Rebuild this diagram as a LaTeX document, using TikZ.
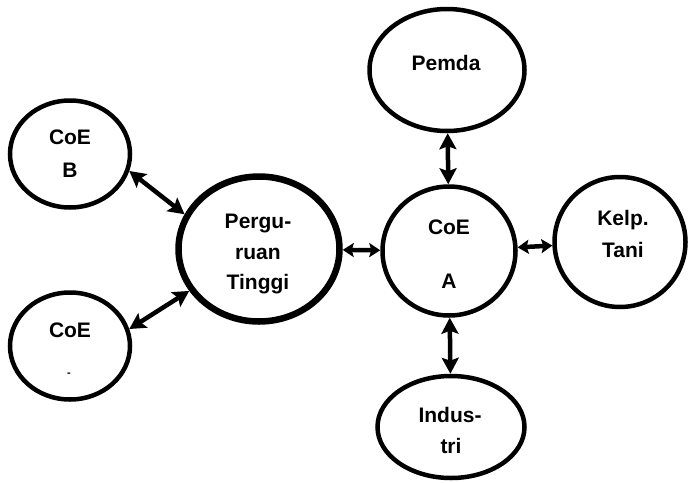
\documentclass[tikz,border=0pt]{standalone}
\usepackage{fontspec}
\setmainfont{Liberation Sans}
\usetikzlibrary{shapes.geometric,arrows.meta}
\newcommand{\lbfont}{\fontsize{21}{25}\selectfont\bfseries}
\tikzset{
  bub/.style={draw, line width=4.5pt, ellipse, inner sep=0pt},
  lbl/.style={font=\lbfont, anchor=base, inner sep=0pt},
  link/.style={line width=4.5pt, {Stealth[length=16pt,width=17pt,inset=3pt]}-{Stealth[length=16pt,width=17pt,inset=3pt]}},
  shortlink/.style={line width=4.5pt, {Stealth[length=11pt,width=14pt,inset=2pt]}-{Stealth[length=11pt,width=14pt,inset=2pt]}}
}
\begin{document}
\begin{tikzpicture}[x=1pt,y=-1pt]
\useasboundingbox[fill=white] (0,0) rectangle (688,482);
% bubbles
\node[bub, minimum width=120pt, minimum height=107pt] (cb) at (70,154) {};
\node[bub, minimum width=120pt, minimum height=107pt] (cl) at (70,346) {};
\node[bub, line width=6.5pt, minimum width=161pt, minimum height=145pt] (pt) at (259,249) {};
\node[bub, minimum width=133pt, minimum height=129pt] (ca) at (449,251) {};
\node[bub, minimum width=155pt, minimum height=122pt] (pem) at (447,70) {};
\node[bub, minimum width=131pt, minimum height=130pt] (kt) at (620,242) {};
\node[bub, minimum width=147pt, minimum height=102pt] (ind) at (451,427) {};
% labels
\node[lbl] (cb1) at (70,144) {CoE};
\node[lbl] (cb2) at (70,177) {B};
\node[lbl] (cl1) at (70,337) {CoE};
\node[lbl, font=\fontsize{11}{13}\selectfont\bfseries] (cl2) at (69,376) {-};
\node[lbl] (pt1) at (258,228) {Pergu-};
\node[lbl] (pt2) at (258,259) {ruan};
\node[lbl] (pt3) at (258,289) {Tinggi};
\node[lbl] (ca1) at (449,234) {CoE};
\node[lbl] (ca2) at (449,288) {A};
\node[lbl] (pem1) at (446,70) {Pemda};
\node[lbl] (kt1) at (623,225) {Kelp.};
\node[lbl] (kt2) at (623,257) {Tani};
\node[lbl] (ind1) at (450,422) {Indus-};
\node[lbl] (ind2) at (451,453) {tri};
% connectors
\draw[link] (cb.-16) -- (pt.155);
\draw[link] (cl.16) -- (pt.211);
\draw[shortlink] (pt) -- (ca);
\draw[shortlink] (ca) -- (kt);
\draw[link] (ca) -- (pem);
\draw[link] (ca) -- (ind);
\end{tikzpicture}
\end{document}
